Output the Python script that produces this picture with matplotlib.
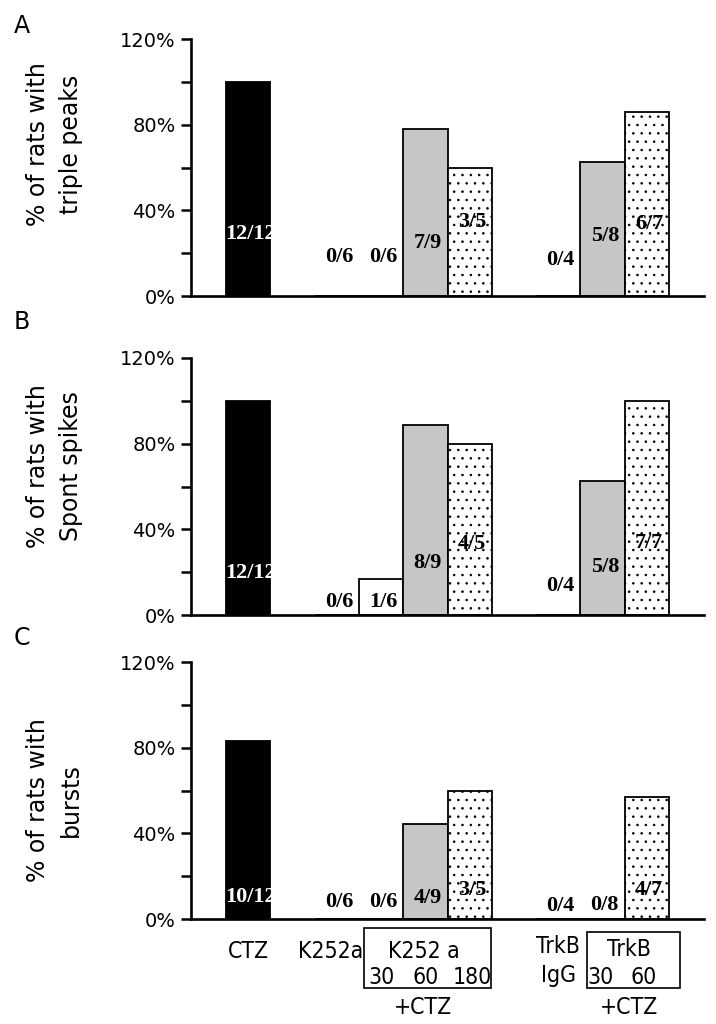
import matplotlib
matplotlib.use("Agg")
import matplotlib.pyplot as plt
from matplotlib import font_manager
from matplotlib.font_manager import FontProperties
from matplotlib.patches import Rectangle

plt.rcParams["hatch.linewidth"] = 0.6
plt.rcParams["font.family"] = ["DejaVu Sans"]

# Data
groups = ["CTZ", "K252a", "K252a 30", "K252a 60", "K252a 180",
          "TrkB IgG", "TrkB 30", "TrkB 60"]
x_pos = [0, 2, 3, 4, 5, 7, 8, 9]

triple_peaks = [100.0, 0.0, 0.0, 77.8, 60.0, 0.0, 62.5, 85.7]
spont_spikes = [100.0, 0.0, 16.7, 88.9, 80.0, 0.0, 62.5, 100.0]
bursts = [83.3, 0.0, 0.0, 44.4, 60.0, 0.0, 0.0, 57.1]

triple_counts = ["12/12", "0/6", "0/6", "7/9", "3/5", "0/4", "5/8", "6/7"]
spont_counts = ["12/12", "0/6", "1/6", "8/9", "4/5", "0/4", "5/8", "7/7"]
burst_counts = ["10/12", "0/6", "0/6", "4/9", "3/5", "0/4", "0/8", "4/7"]

y_ticks = [0, 40, 80, 120]
y_tick_labels = ["0%", "40%", "80%", "120%"]
y_minor = [20, 60, 100]

# styles
fills = ["black", "white", "white", "#c6c6c6", "white", "white", "#c6c6c6", "white"]
hatches = [None, None, None, None, "..", None, None, ".."]
text_colors = ["white"] + ["black"] * 7
serif = ["Liberation Serif", "DejaVu Serif"]

# a narrow sans for the group labels, if one is installed
narrow_fp, narrow_size = FontProperties(family="DejaVu Sans"), 14.5
for f in font_manager.fontManager.ttflist:
    if f.weight in (400, "normal") and f.style == "normal" and \
            ("Narrow" in f.name or f.stretch == "condensed"):
        narrow_fp, narrow_size = FontProperties(fname=f.fname), 16.5
        break

panels = [
    ("A", "% of rats with\ntriple peaks", triple_peaks, triple_counts,
     [29, 18.2, 18.2, 24.7, 34.6, 16.8, 28, 33.6], 0.7109, 0.59),
    ("B", "% of rats with\nSpont spikes", spont_spikes, spont_counts,
     [19.7, 6.1, 6.1, 24.4, 33.3, 13.6, 22.5, 33.7], 0.3994, 0.578),
    ("C", "% of rats with\nbursts", bursts, burst_counts,
     [10.4, 8, 8, 9.9, 13.6, 6.1, 6.4, 13.6], 0.1025, 0.463),
]
letter_y = [0.975, 0.686, 0.377]

fig = plt.figure(figsize=(7.16, 10.24), dpi=100)
axes = []
for (letter, ylabel, vals, counts, label_y, bottom, ly), ty in zip(panels, letter_y):
    ax = fig.add_axes([0.2668, bottom, 0.7165, 0.251])
    axes.append(ax)
    ax.bar(x_pos, vals, width=1.0, color=fills, edgecolor="black",
           linewidth=1.3, hatch=hatches, zorder=2)
    for x, c, y, tc in zip(x_pos, counts, label_y, text_colors):
        ax.text(x + 0.05, y, c, ha="center", va="center", color=tc,
                family=serif, fontweight="bold", fontsize=16, zorder=3)

    ax.set_xlim(-1.29, 10.29)
    ax.set_ylim(0, 120)
    ax.set_yticks(y_ticks)
    ax.set_yticklabels(y_tick_labels)
    ax.set_yticks(y_minor, minor=True)
    ax.set_xticks([])
    ax.tick_params(axis="y", which="both", direction="out", length=7,
                   width=1.8, labelsize=14, pad=4)
    for s in ["top", "right"]:
        ax.spines[s].set_visible(False)
    for s in ["left", "bottom"]:
        ax.spines[s].set_linewidth(1.9)

    ax.set_ylabel(ylabel, fontsize=17, linespacing=1.45)
    ax.yaxis.set_label_coords(-0.211, ly)

    fig.text(0.031, ty, letter, fontsize=17, ha="center", va="center")

# Group labels under panel C
ax = axes[-1]
tr = ax.get_xaxis_transform()
bottom_labels = [
    (0, -0.125, "CTZ"),
    (1.87, -0.125, "K252a"),
    (3.97, -0.125, "K252 a"),
    (3, -0.227, "30"),
    (4, -0.227, "60"),
    (5.05, -0.227, "180"),
    (3.95, -0.345, "+CTZ"),
    (7.0, -0.106, "TrkB"),
    (7.0, -0.22, "IgG"),
    (8.6, -0.118, "TrkB"),
    (7.95, -0.227, "30"),
    (8.92, -0.227, "60"),
    (8.6, -0.345, "+CTZ"),
]
for x, y, s in bottom_labels:
    ax.text(x, y, s, transform=tr, ha="center", va="center",
            fontproperties=narrow_fp, fontsize=narrow_size, clip_on=False)

for x0, x1, y0, y1 in [(2.62, 5.49, -0.27, -0.035), (7.65, 9.75, -0.27, -0.051)]:
    ax.add_patch(Rectangle((x0, y0), x1 - x0, y1 - y0, transform=tr,
                           fill=False, edgecolor="black", linewidth=1.2,
                           clip_on=False))

fig.savefig("out.png", dpi=100)
